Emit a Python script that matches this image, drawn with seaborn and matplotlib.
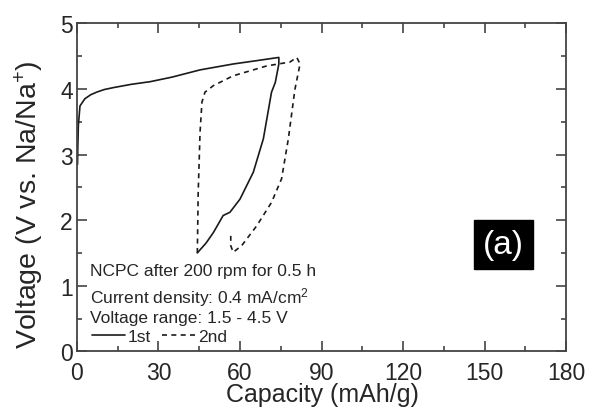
import matplotlib
matplotlib.use("Agg")
import matplotlib.pyplot as plt
import seaborn as sns
import pandas as pd
import numpy as np

# ---- data ----
cycle1_cap = [0.2, 0.3, 0.5, 1.1, 2.9, 5.0, 7.2, 10.0, 13.4, 20.0, 26.9, 35.0, 45.3, 57.5, 66.0, 74.3,
              74.3, 73.0, 71.6, 68.6, 64.9, 60.0, 56.3, 53.8, 50.2, 47.5, 44.3]
cycle1_volt = [2.85, 3.10, 3.44, 3.74, 3.85, 3.91, 3.95, 3.99, 4.02, 4.07, 4.11, 4.18, 4.29, 4.38, 4.43, 4.48,
               4.38, 4.10, 3.95, 3.24, 2.73, 2.32, 2.12, 2.07, 1.81, 1.65, 1.50]
cycle2_cap = [44.3, 44.6, 45.3, 46.0, 47.1, 50.2, 57.5, 69.8, 78.4, 80.9,
              82.1, 80.2, 77.8, 75.3, 71.6, 66.1, 60.6, 57.5, 56.6, 56.6]
cycle2_volt = [1.50, 2.40, 3.34, 3.80, 3.95, 4.05, 4.20, 4.35, 4.41, 4.48,
               4.38, 3.99, 3.24, 2.63, 2.27, 1.91, 1.61, 1.51, 1.61, 1.76]
cycle_labels = ["1st", "2nd"]

x_ticks = [0, 30, 60, 90, 120, 150, 180]
y_ticks = [0, 1, 2, 3, 4, 5]

df = pd.concat([
    pd.DataFrame({"cap": cycle1_cap, "volt": cycle1_volt, "cycle": cycle_labels[0],
                  "order": range(len(cycle1_cap))}),
    pd.DataFrame({"cap": cycle2_cap, "volt": cycle2_volt, "cycle": cycle_labels[1],
                  "order": range(len(cycle2_cap))}),
])

sns.set_style("ticks")
plt.rcParams['font.family'] = ['Liberation Sans', 'DejaVu Sans']
plt.rcParams['mathtext.fontset'] = 'custom'
plt.rcParams['mathtext.rm'] = 'Liberation Sans'
plt.rcParams['mathtext.it'] = 'Liberation Sans'

fig = plt.figure(figsize=(5.89, 4.10), dpi=100)
ax = fig.add_axes([0.1307, 0.1407, 0.8303, 0.80])

line_color = "#1a1a1a"
styles = {"1st": "-", "2nd": (0, (3, 2.6))}
for lab in cycle_labels:
    sub = df[df["cycle"] == lab]
    sns.lineplot(data=sub, x="cap", y="volt", sort=False, estimator=None,
                 ax=ax, color=line_color, lw=1.2, label=lab)
for ln, lab in zip(ax.get_lines(), cycle_labels):
    ln.set_linestyle(styles[lab])

ax.set_xlim(0, 180)
ax.set_ylim(0, 5)
ax.set_xticks(x_ticks)
ax.set_yticks(y_ticks)
ax.set_xticks(np.arange(15, 180, 30), minor=True)
ax.set_yticks(np.arange(0.5, 5, 1), minor=True)
ax.tick_params(which="both", direction="in", top=True, right=True, color="#444444", width=1.2)
ax.tick_params(which="major", length=7)
ax.tick_params(which="minor", length=3.6)
ax.tick_params(axis="x", which="major", labelsize=16.5, pad=7)
ax.tick_params(axis="y", which="major", labelsize=16.5, pad=3)
for s in ax.spines.values():
    s.set_color("#444444")
    s.set_linewidth(1.3)

ax.set_xlabel("Capacity (mAh/g)", fontsize=18)
ax.set_ylabel(r"Voltage (V vs. Na/Na$^{+}$)", fontsize=20.5)
ax.xaxis.set_label_coords(0.502, -0.131, transform=ax.transAxes)
ax.xaxis.label.set_va("center")
ax.yaxis.set_label_coords(-0.097, 0.449, transform=ax.transAxes)
ax.yaxis.label.set_va("center")

fs = 12.5
ax.text(0.027, 0.245, "NCPC after 200 rpm for 0.5 h", transform=ax.transAxes,
        fontsize=fs, va="center", ha="left")
ax.text(0.027, 0.166, r"Current density: 0.4 mA/cm$^{2}$", transform=ax.transAxes,
        fontsize=fs, va="center", ha="left")
ax.text(0.027, 0.104, "Voltage range: 1.5 - 4.5 V", transform=ax.transAxes,
        fontsize=fs, va="center", ha="left")

leg = ax.legend(loc="center left", bbox_to_anchor=(0.030, 0.046), ncol=2, frameon=False,
                fontsize=fs, handlelength=1.9, handletextpad=0.2, columnspacing=0.6,
                borderpad=0, borderaxespad=0)

ax.text(0.872, 0.326, "(a)", transform=ax.transAxes, fontsize=24, color="white",
        ha="center", va="center",
        bbox=dict(boxstyle="square,pad=0.28", facecolor="black", edgecolor="black"))

fig.savefig("out.png", dpi=100)
